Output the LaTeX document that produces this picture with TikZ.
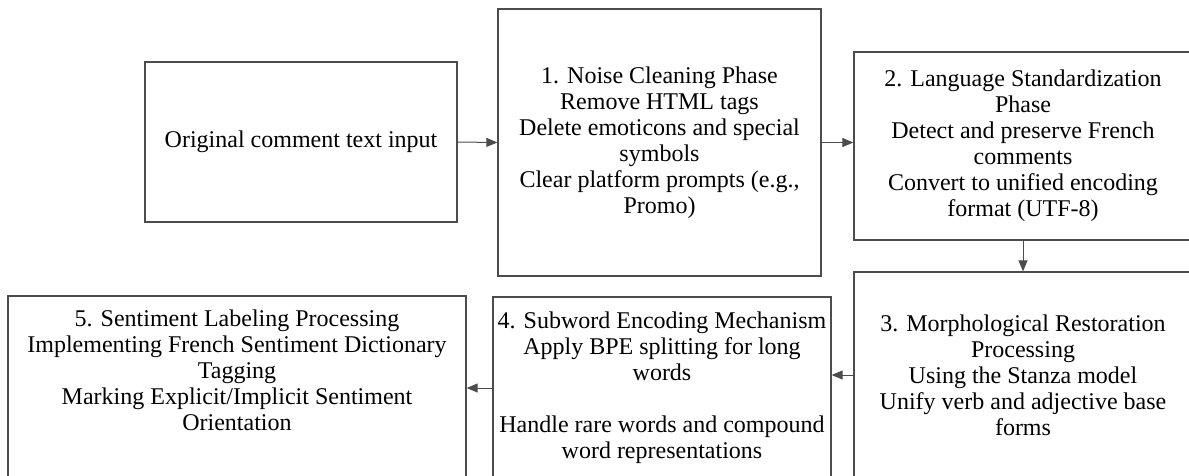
\documentclass[tikz,border=0pt]{standalone}
\usepackage{fontspec}
\setmainfont{Liberation Serif}
\usetikzlibrary{arrows.meta}
\tikzset{
  phasebox/.style={draw=black!70, line width=1.3pt, align=center, inner sep=0pt,
    font=\fontsize{24}{26}\selectfont},
  flowarrow/.style={-{Triangle[length=11pt,width=9pt]}, draw=black!70, line width=1pt}
}
\begin{document}
\begin{tikzpicture}[x=1pt, y=-1pt]
                \useasboundingbox (0,0) rectangle (1189,475);

                \node[phasebox, minimum width=312pt, minimum height=160pt] (input) at (301,142) {Original comment text input};
                \node[phasebox, minimum width=323pt, minimum height=267pt] (noise) at (659.5,142.5) {1. Noise Cleaning Phase\\Remove HTML tags\\Delete emoticons and special\\symbols\\Clear platform prompts (e.g.,\\Promo)};
                \node[phasebox, minimum width=338pt, minimum height=188pt] (lang) at (1023,146) {2. Language Standardization\\Phase\\Detect and preserve French\\comments\\Convert to unified encoding\\format (UTF-8)};
                \node[phasebox, minimum width=338pt, minimum height=206pt] (morph) at (1023,375) {3. Morphological Restoration\\Processing\\Using the Stanza model\\Unify verb and adjective base\\forms};
                \node[phasebox, minimum width=338pt, minimum height=182pt] (subword) at (662,388) {4. Subword Encoding Mechanism\\Apply BPE splitting for long\\words\\[26pt]Handle rare words and compound\\word representations};
                \node[phasebox, minimum width=458pt, minimum height=184pt] (label) at (237,388) {5. Sentiment Labeling Processing\\Implementing French Sentiment Dictionary\\Tagging\\Marking Explicit/Implicit Sentiment\\Orientation\\[10pt]\mbox{}};

                \draw[flowarrow] (input.east) -- (noise.west);
                \draw[flowarrow] (noise.east) -- (noise.east -| lang.west);
                \draw[flowarrow] (lang.south) -- (morph.north);
                \draw[flowarrow] (morph.west) -- (morph.west -| subword.east);
                \draw[flowarrow] (subword.west) -- (label.east);
            \end{tikzpicture}
\end{document}
